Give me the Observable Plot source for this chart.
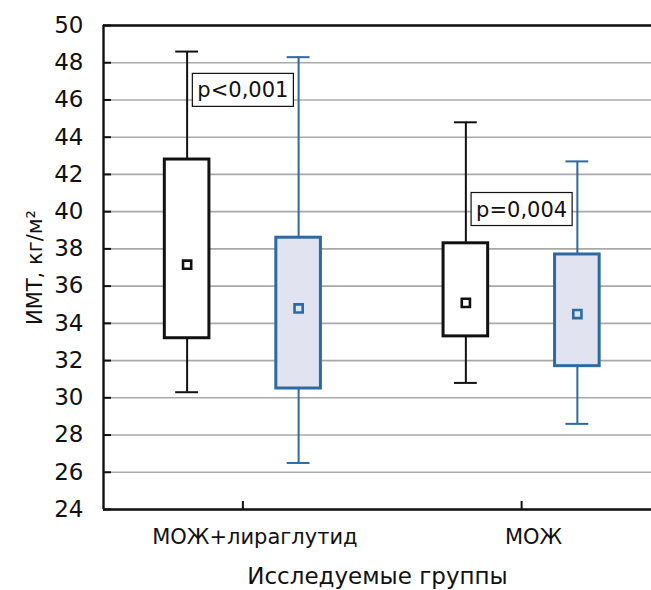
<!DOCTYPE html>
<html>
<head>
<meta charset="utf-8">
<script src="https://cdn.jsdelivr.net/npm/d3@7"></script>
<script src="https://cdn.jsdelivr.net/npm/@observablehq/plot@0.6"></script>
<style>
  html, body { margin: 0; padding: 0; background: #fff; }
  #chart svg { font-family: "DejaVu Sans", sans-serif; display: block; }
</style>
</head>
<body>
<div id="chart"></div>
<script>
// ---- data ----
const groups = ["МОЖ+лираглутид", "МОЖ"];
const seriesNames = ["до", "после"];
const boxGroup = [0, 0, 1, 1];           // index into groups
const boxSeries = [0, 1, 0, 1];          // index into seriesNames
const means = [37.15, 34.8, 35.1, 34.5];
const boxLow = [33.2, 30.5, 33.3, 31.7];
const boxHigh = [42.8, 38.6, 38.3, 37.7];
const whiskLow = [30.3, 26.5, 30.8, 28.6];
const whiskHigh = [48.6, 48.3, 44.8, 42.7];
const pLabels = ["p<0,001", "p=0,004"];
const pGroup = [0, 1];
const pY = [46.5, 40.1];
const yTicks = [24, 26, 28, 30, 32, 34, 36, 38, 40, 42, 44, 46, 48, 50];

// ---- styles / layout ----
const W = 651, H = 590;
const mL = 103, mR = 0, mT = 25, mB = 81;
const xDomain = [-0.5, 1.466];
const seriesOffset = 0.2;   // within-group offset (x units)
const boxHalf = 0.08;
const capHalf = 0.041;
const strokeCol = ["#111111", "#2d6aa3"];
const fillCol = ["#ffffff", "#e1e4f0"];

const rows = means.map((m, i) => {
  const xc = boxGroup[i] + (boxSeries[i] === 0 ? -seriesOffset : seriesOffset);
  return {
    group: groups[boxGroup[i]], s: boxSeries[i], xc,
    x1: xc - boxHalf, x2: xc + boxHalf,
    c1: xc - capHalf, c2: xc + capHalf,
    mean: m, lo: boxLow[i], hi: boxHigh[i], wlo: whiskLow[i], whi: whiskHigh[i],
    stroke: strokeCol[boxSeries[i]], fill: fillCol[boxSeries[i]]
  };
});
const pRows = pLabels.map((t, i) => ({x: pGroup[i], y: pY[i], text: t}));

const chart = Plot.plot({
  width: W, height: H,
  marginLeft: mL, marginRight: mR, marginTop: mT, marginBottom: mB,
  x: {domain: xDomain, axis: null},
  y: {domain: [24, 50], axis: null},
  marks: [
    Plot.gridY(yTicks, {stroke: "#a9a9a9", strokeOpacity: 1, strokeWidth: 1.6}),
    // whiskers
    Plot.ruleX(rows, {x: "xc", y1: "hi", y2: "whi", stroke: "stroke", strokeWidth: 2}),
    Plot.ruleX(rows, {x: "xc", y1: "lo", y2: "wlo", stroke: "stroke", strokeWidth: 2}),
    Plot.ruleY(rows, {y: "whi", x1: "c1", x2: "c2", stroke: "stroke", strokeWidth: 2}),
    Plot.ruleY(rows, {y: "wlo", x1: "c1", x2: "c2", stroke: "stroke", strokeWidth: 2}),
    // boxes
    Plot.rect(rows, {x1: "x1", x2: "x2", y1: "lo", y2: "hi", fill: "fill", stroke: "stroke", strokeWidth: 3}),
    // means
    Plot.dot(rows, {x: "xc", y: "mean", symbol: "square", r: 4.6, fill: "fill", stroke: "stroke", strokeWidth: 2.6}),
    // p-values
    Plot.text(pRows, {x: "x", y: "y", text: "text", fontSize: 21, fill: "#111"}),
    // frame lines
    Plot.ruleY([24, 50], {stroke: "#111", strokeWidth: 2.4}),
    Plot.ruleX([xDomain[0]], {stroke: "#111", strokeWidth: 2.4}),
    // axes
    Plot.axisY(yTicks, {
      tickSize: -8, tickPadding: 28, fontSize: 23, stroke: "#111", strokeWidth: 2, fill: "#111",
      label: "ИМТ, кг/м²", labelAnchor: "center", labelOffset: 76, labelArrow: "none"
    }),
    Plot.axisX([0, 1], {
      tickSize: -8, text: null, stroke: "#111", strokeWidth: 2, label: null
    }),
    Plot.axisX([0, 1], {
      tickSize: 0, tickPadding: 20, fontSize: 21, fill: "#111",
      tickFormat: i => groups[i], dx: 12,
      label: "Исследуемые группы", labelAnchor: "center", labelOffset: 74, labelArrow: "none"
    })
  ]
});
document.getElementById("chart").appendChild(chart);

// axis titles: slightly larger type
chart.querySelectorAll('g[aria-label="x-axis label"]').forEach(g => g.setAttribute("font-size", 23));
chart.querySelectorAll('g[aria-label="y-axis label"]').forEach(g => g.setAttribute("font-size", 21));

// boxes behind the p-value labels
const svgns = "http://www.w3.org/2000/svg";
chart.querySelectorAll('g[aria-label="text"] text').forEach(t => {
  const b = t.getBBox();
  const r = document.createElementNS(svgns, "rect");
  r.setAttribute("x", b.x - 5);
  r.setAttribute("y", b.y - 5);
  r.setAttribute("width", b.width + 10);
  r.setAttribute("height", b.height + 9);
  r.setAttribute("fill", "#fff");
  r.setAttribute("stroke", "#111");
  r.setAttribute("stroke-width", 1.2);
  const tr = t.getAttribute("transform");
  if (tr) r.setAttribute("transform", tr);
  t.parentNode.insertBefore(r, t);
});
</script>
</body>
</html>
